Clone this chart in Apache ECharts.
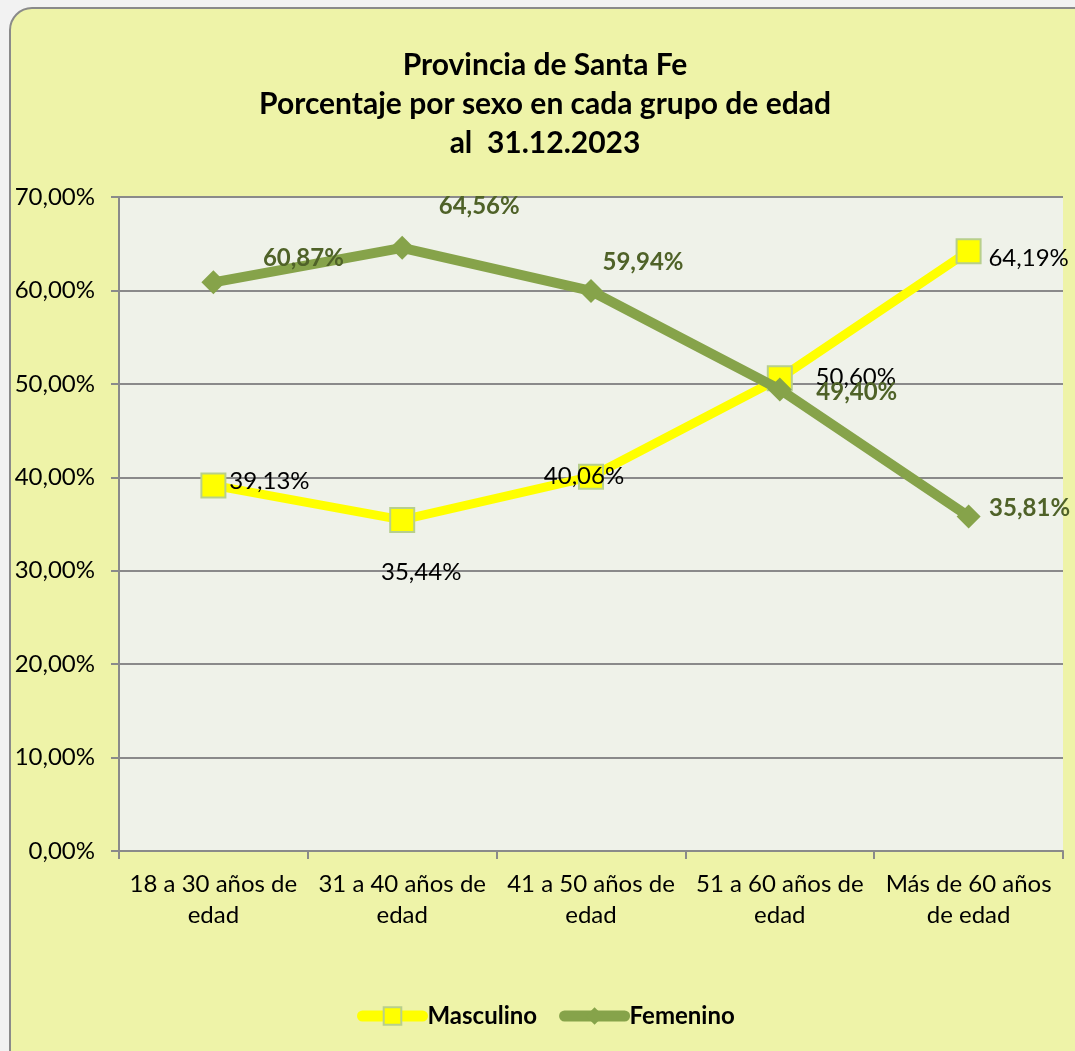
<!DOCTYPE html>
<html>
<head>
<meta charset="utf-8">
<script src="https://cdn.jsdelivr.net/npm/echarts@6/dist/echarts.min.js"></script>
<style>
html,body{margin:0;padding:0;background:#f2f2f2;overflow:hidden;}
#chart{width:1075px;height:1051px;}
</style>
</head>
<body>
<div id="chart"></div>
<script>
var categorias = ["18 a 30 años de\nedad", "31 a 40 años de\nedad", "41 a 50 años de\nedad", "51 a 60 años de\nedad", "Más de 60 años\nde edad"];
var masculino = [39.13, 35.44, 40.06, 50.60, 64.19];
var femenino = [60.87, 64.56, 59.94, 49.40, 35.81];
var yTicks = [0, 10, 20, 30, 40, 50, 60, 70];

// desplazamiento de las etiquetas (a mano, como en la planilla)
var offMasc = [[56, -4], [19, 52], [-7, 0], [76, -1], [60, 7]];
var offFem = [[90, -24], [77, -42], [52, -29], [77, 3], [61, -8]];

function fmt(v) {
	return v.toFixed(2).replace(".", ",") + "%";
}

var chart = echarts.init(document.getElementById("chart"));

var option = {
	backgroundColor: "#f2f2f2",
	textStyle: { fontFamily: "Lato, 'Open Sans', sans-serif" },
	title: {
		text: "Provincia de Santa Fe\nPorcentaje por sexo en cada grupo de edad\nal  31.12.2023",
		left: 540,
		textAlign: "center",
		top: 41,
		textStyle: { fontSize: 30, fontWeight: "bold", color: "#000", lineHeight: 39 }
	},
	graphic: [{
		type: "rect",
		z: -10,
		shape: { x: 10, y: 8, width: 1090, height: 1070, r: 22 },
		style: { fill: "#eef3a8", stroke: "#8a8a8a", lineWidth: 2 }
	}],
	legend: {
		bottom: 18,
		left: 352,
		itemWidth: 60,
		itemHeight: 22,
		itemGap: 22,
		lineStyle: { width: 11, cap: "round" },
		textStyle: { fontSize: 24, fontWeight: "bold", color: "#000" },
		data: ["Masculino", "Femenino"]
	},
	grid: {
		left: 119, right: 12, top: 197, bottom: 200,
		show: true, backgroundColor: "#eff2e9", borderWidth: 0
	},
	xAxis: {
		type: "category",
		data: categorias,
		axisLine: { lineStyle: { color: "#8a8a8a", width: 2 } },
		axisTick: { show: true, length: 8, lineStyle: { color: "#8a8a8a", width: 2 } },
		axisLabel: { fontSize: 24, color: "#000", lineHeight: 31, margin: 18, interval: 0 }
	},
	yAxis: {
		type: "value",
		min: 0, max: 70, interval: 10,
		axisLine: { show: true, lineStyle: { color: "#8a8a8a", width: 2 } },
		axisTick: { show: true, length: 8, lineStyle: { color: "#8a8a8a", width: 2 } },
		splitLine: { lineStyle: { color: "#8a8a8a", width: 2 } },
		axisLabel: {
			fontSize: 24, color: "#000", margin: 24,
			formatter: function (v) { return yTicks.indexOf(v) >= 0 ? fmt(v) : ""; }
		}
	},
	series: [{
		name: "Masculino",
		type: "line",
		z: 2,
		data: masculino.map(function (v, i) {
			return { value: v, label: { offset: offMasc[i] } };
		}),
		symbol: "rect",
		symbolSize: 24,
		lineStyle: { color: "#ffff00", width: 9 },
		itemStyle: { color: "#ffff00", borderColor: "#b8cf8c", borderWidth: 2 },
		label: {
			show: true, position: "inside", fontSize: 24, color: "#000",
			formatter: function (p) { return fmt(p.value); }
		}
	}, {
		name: "Femenino",
		type: "line",
		z: 3,
		data: femenino.map(function (v, i) {
			return { value: v, label: { offset: offFem[i] } };
		}),
		symbol: "diamond",
		symbolSize: 24,
		lineStyle: { color: "#86a34a", width: 10 },
		itemStyle: { color: "#86a34a" },
		label: {
			show: true, position: "inside", fontSize: 24, fontWeight: "bold", color: "#4f6228",
			formatter: function (p) { return fmt(p.value); }
		}
	}]
};

chart.setOption(option);
</script>
</body>
</html>
